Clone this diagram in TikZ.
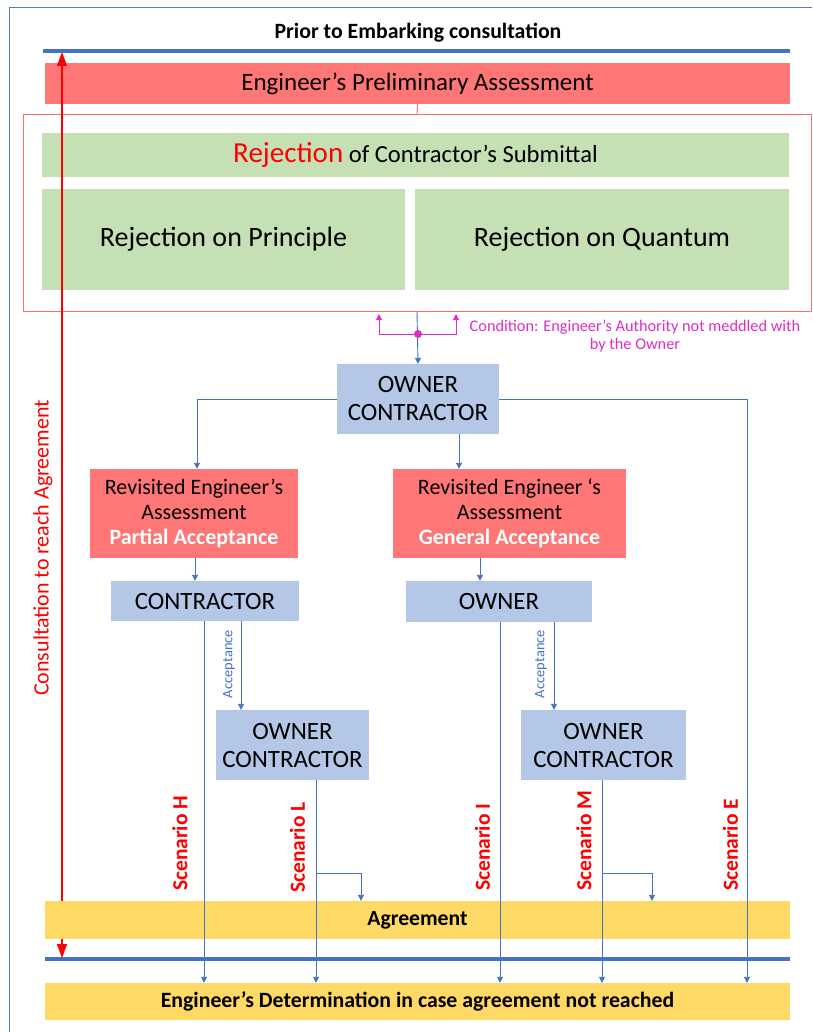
\documentclass[tikz,border=0pt]{standalone}
\usepackage{fontspec}
\setmainfont{Carlito}
\usetikzlibrary{arrows.meta}

\definecolor{boxred}{HTML}{FF7676}
\definecolor{boxgreen}{HTML}{C5E0B4}
\definecolor{boxblue}{HTML}{B4C7E7}
\definecolor{boxyellow}{HTML}{FFD966}
\definecolor{linkblue}{HTML}{4472C4}
\definecolor{framered}{HTML}{FF6E6E}
\definecolor{framegray}{HTML}{5A7CB8}
\definecolor{condmag}{HTML}{DD2FC4}

\newcommand\fsz[2]{\fontsize{#1}{#2}\selectfont}

\tikzset{
  box/.style={inner sep=0pt, align=center, text=black},
  redbox/.style={box, fill=boxred},
  greenbox/.style={box, fill=boxgreen},
  bluebox/.style={box, fill=boxblue},
  yellowbox/.style={box, fill=boxyellow},
  link/.style={draw=linkblue, line width=0.9pt},
  arr/.style={link, -{Triangle[width=6pt,length=6pt]}},
  bar/.style={draw=linkblue, line width=3.5pt},
  scen/.style={rotate=90, anchor=west, text=red, font=\fsz{21.5}{24}\bfseries, inner sep=0pt},
  acc/.style={rotate=90, text=linkblue, font=\fsz{14.5}{16}, inner sep=0pt},
  cond/.style={draw=condmag, line width=1pt, -{Triangle[width=6pt,length=6pt]}},
}

\begin{document}
\begin{tikzpicture}[x=1pt,y=-1pt]
\useasboundingbox (0,0) rectangle (812,1032);

% page frame
\draw[framegray, line width=0.8pt] (9,1032) -- (9,7) -- (812,7);

% title and the two phase bars
\node[font=\fsz{21.8}{26}\bfseries] (title) at (418,33) {Prior to Embarking consultation};
\coordinate (barTL) at (43,51);
\coordinate (barTR) at (790,51);
\coordinate (barBL) at (45,959);
\coordinate (barBR) at (790,959);
\draw[bar] (barTL) -- (barTR);
\draw[bar] (barBL) -- (barBR);

% preliminary assessment and rejection block
\node[redbox, minimum width=745, minimum height=41, font=\fsz{25}{30}] (pre) at (417.5,83.5) {Engineer’s Preliminary Assessment};
\node[draw=framered, line width=1pt, minimum width=788, minimum height=196, inner sep=0pt] (rejbox) at (417,213) {};
\node[greenbox, minimum width=747, minimum height=44, font=\fsz{24.6}{28}] (rejhead) at (415.5,155)
  {{\fsz{29}{32}\color{red}Rejection} of Contractor’s Submittal};
\node[greenbox, minimum width=363, minimum height=101, font=\fsz{28}{32}] (rejP) at (223.5,239.5) {Rejection on Principle};
\node[greenbox, minimum width=374, minimum height=101, font=\fsz{28}{32}] (rejQ) at (602,239.5) {Rejection on Quantum};
\draw[draw=framered, line width=1pt] (pre.south) -- (rejbox.north);

% consultation span
\coordinate (spanTop) at (62,52);
\coordinate (spanBot) at (62,958);
\draw[red, line width=1.4pt, {Triangle[width=10pt,length=14pt]}-{Triangle[width=10pt,length=14pt]}] (spanTop) -- (spanBot);
\node[rotate=90, text=red, font=\fsz{22}{26}, inner sep=0pt] (spanlbl) at (43,548) {Consultation to reach Agreement};

% parties and revisited assessments
\node[bluebox, minimum width=162, minimum height=70, font=\fsz{24.9}{28}] (oc) at (418,399) {OWNER\\CONTRACTOR};
\node[redbox, minimum width=208, minimum height=89, font=\fsz{22}{25}] (revL) at (194,513.5)
  {Revisited Engineer’s\\Assessment\\{\color{white}\bfseries Partial Acceptance}};
\node[redbox, minimum width=233, minimum height=89, font=\fsz{22}{25}] (revR) at (509.5,513.5)
  {Revisited Engineer ‘s\\Assessment\\{\color{white}\bfseries General Acceptance}};
\node[bluebox, minimum width=188, minimum height=40, font=\fsz{24.9}{28}] (con) at (205,601) {CONTRACTOR};
\node[bluebox, minimum width=186, minimum height=41, font=\fsz{24.9}{28}] (own) at (499,601.5) {OWNER};
\node[bluebox, minimum width=153, minimum height=70, font=\fsz{24.9}{28}] (ocL) at (292.5,745) {OWNER\\CONTRACTOR};
\node[bluebox, minimum width=165, minimum height=70, font=\fsz{24.9}{28}] (ocR) at (603.5,745) {OWNER\\CONTRACTOR};

% outcomes
\node[yellowbox, minimum width=745, minimum height=38, font=\fsz{21.7}{24}\bfseries] (agree) at (417.5,920) {Agreement};
\node[yellowbox, minimum width=745, minimum height=37, font=\fsz{21.8}{24}\bfseries] (det) at (417.5,1001.5) {Engineer’s Determination in case agreement not reached};

% condition on the path to the parties
\coordinate (cdot) at (418,334);
\coordinate (cl) at (379,334);
\coordinate (cr) at (456,334);
\coordinate (clt) at (379,314);
\coordinate (crt) at (456,314);
\draw[arr] (rejbox.south) -- (oc.north);
\draw[cond] (cdot) -- (cl) -- (clt);
\draw[cond] (cdot) -- (cr) -- (crt);
\fill[condmag] (cdot) circle (4);
\node[text=condmag, font=\fsz{16.3}{18}, align=center, inner sep=0pt] (condlbl) at (635,336)
  {Condition: Engineer’s Authority not meddled with\\by the Owner};

% column positions of the connectors
\coordinate (xRL) at (197,0);
\coordinate (xOC) at (459,0);
\coordinate (xKL) at (195,0);
\coordinate (xKR) at (480,0);
\coordinate (xH) at (204,0);
\coordinate (xAL) at (241,0);
\coordinate (xL) at (316,0);
\coordinate (xBL) at (361,0);
\coordinate (xI) at (500,0);
\coordinate (xAR) at (554,0);
\coordinate (xM) at (602,0);
\coordinate (xBM) at (652,0);
\coordinate (xE) at (747,0);
\coordinate (jL) at (316,873);
\coordinate (jM) at (602,873);

% branching from the parties
\draw[arr] (oc.west) -| (revL.north -| xRL);
\draw[arr] (oc.south -| xOC) -- (revR.north -| xOC);
\draw[arr] (oc.east) -| (det.north -| xE);
\draw[arr] (revL.south -| xKL) -- (con.north -| xKL);
\draw[arr] (revR.south -| xKR) -- (own.north -| xKR);

% left side: partial acceptance
\draw[arr] (con.south -| xH) -- (det.north -| xH);
\draw[arr] (con.south -| xAL) -- (ocL.north -| xAL);
\node[acc] (accL) at (229,664) {Acceptance};
\draw[arr] (ocL.south -| xL) -- (det.north -| xL);
\draw[arr] (jL) -| (agree.north -| xBL);

% right side: general acceptance
\draw[arr] (own.south -| xI) -- (det.north -| xI);
\draw[arr] (own.south -| xAR) -- (ocR.north -| xAR);
\node[acc] (accR) at (541,664) {Acceptance};
\draw[arr] (ocR.south -| xM) -- (det.north -| xM);
\draw[arr] (jM) -| (agree.north -| xBM);

% scenario labels
\node[scen] (sH) at (180,891) {Scenario H};
\node[scen] (sL) at (297.5,893) {Scenario L};
\node[scen] (sI) at (482.5,891) {Scenario I};
\node[scen] (sM) at (584,891) {Scenario M};
\node[scen] (sE) at (730.5,891) {Scenario E};
\end{tikzpicture}
\end{document}
